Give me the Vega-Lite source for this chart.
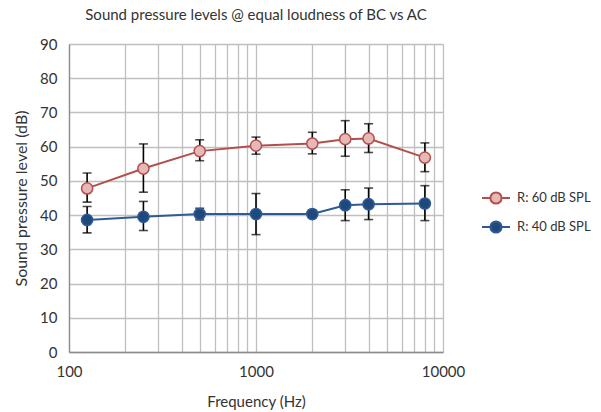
{
  "$schema": "https://vega.github.io/schema/vega-lite/v6.json",
  "width": 374,
  "height": 308,
  "padding": {"left": 13, "top": 8, "right": 5, "bottom": 5},
  "background": "white",
  "config": {
    "font": "Lato",
    "view": {"stroke": null},
    "axis": {"labelFont": "Lato", "titleFont": "Lato", "labelColor": "#333333", "titleColor": "#333333", "titleFontWeight": "normal"},
    "axisY": {"labelFontSize": 15, "labelPadding": 12, "titleFontSize": 16, "titlePadding": 10, "labelOverlap": false, "labelFlush": false, "ticks": false, "grid": true, "gridColor": "#bfbfbf", "gridWidth": 1.3, "domainColor": "#8c8c8c", "domainWidth": 1.3}
  },
  "title": {"text": "Sound pressure levels @ equal loudness of BC vs AC", "font": "Lato", "fontSize": 15, "fontWeight": "normal", "color": "#333333", "offset": 14},
  "data": {
    "values": [
      {"freq": 125, "series": "R: 60 dB SPL", "mean": 47.8, "lo": 43.8, "hi": 52.3},
      {"freq": 250, "series": "R: 60 dB SPL", "mean": 53.6, "lo": 46.7, "hi": 60.8},
      {"freq": 500, "series": "R: 60 dB SPL", "mean": 58.7, "lo": 55.9, "hi": 62.0},
      {"freq": 1000, "series": "R: 60 dB SPL", "mean": 60.3, "lo": 57.8, "hi": 62.8},
      {"freq": 2000, "series": "R: 60 dB SPL", "mean": 60.9, "lo": 57.9, "hi": 64.2},
      {"freq": 3000, "series": "R: 60 dB SPL", "mean": 62.2, "lo": 57.2, "hi": 67.6},
      {"freq": 4000, "series": "R: 60 dB SPL", "mean": 62.4, "lo": 58.3, "hi": 66.7},
      {"freq": 8000, "series": "R: 60 dB SPL", "mean": 56.8, "lo": 52.7, "hi": 61.1},
      {"freq": 125, "series": "R: 40 dB SPL", "mean": 38.6, "lo": 34.8, "hi": 42.5},
      {"freq": 250, "series": "R: 40 dB SPL", "mean": 39.5, "lo": 35.5, "hi": 44.0},
      {"freq": 500, "series": "R: 40 dB SPL", "mean": 40.3, "lo": 38.6, "hi": 42.0},
      {"freq": 1000, "series": "R: 40 dB SPL", "mean": 40.3, "lo": 34.3, "hi": 46.3},
      {"freq": 2000, "series": "R: 40 dB SPL", "mean": 40.3, "lo": 39.2, "hi": 41.4},
      {"freq": 3000, "series": "R: 40 dB SPL", "mean": 42.9, "lo": 38.4, "hi": 47.4},
      {"freq": 4000, "series": "R: 40 dB SPL", "mean": 43.2, "lo": 38.7, "hi": 47.9},
      {"freq": 8000, "series": "R: 40 dB SPL", "mean": 43.4, "lo": 38.4, "hi": 48.6}
    ]
  },
  "encoding": {
    "x": {
      "field": "freq", "type": "quantitative",
      "scale": {"type": "log", "domain": [100, 10000], "nice": false},
      "axis": {
        "title": "Frequency (Hz)", "titleFontSize": 15, "titlePadding": 15,
        "values": [100, 200, 300, 400, 500, 600, 700, 800, 900, 1000, 2000, 3000, 4000, 5000, 6000, 7000, 8000, 9000, 10000],
        "labelExpr": "(datum.value == 100 || datum.value == 1000 || datum.value == 10000) ? datum.label : ''",
        "format": "d", "labelFontSize": 15, "labelPadding": 12,
        "ticks": false, "grid": true, "gridColor": "#bfbfbf", "gridWidth": 1.3,
        "domainColor": "#8c8c8c", "domainWidth": 1.3, "labelFlush": false, "labelOverlap": false
      }
    }
  },
  "layer": [
    {
      "mark": {"type": "rule", "color": "black", "strokeWidth": 1.6},
      "encoding": {
        "y": {"field": "lo", "type": "quantitative",
          "scale": {"domain": [0, 90], "nice": false},
          "axis": {"title": "Sound pressure level (dB)", "values": [0, 10, 20, 30, 40, 50, 60, 70, 80, 90]}},
        "y2": {"field": "hi"}
      }
    },
    {
      "mark": {"type": "tick", "orient": "horizontal", "color": "black", "size": 9, "thickness": 1.6},
      "encoding": {"y": {"field": "lo", "type": "quantitative", "axis": {"title": "Sound pressure level (dB)", "values": [0, 10, 20, 30, 40, 50, 60, 70, 80, 90]}}}
    },
    {
      "mark": {"type": "tick", "orient": "horizontal", "color": "black", "size": 9, "thickness": 1.6},
      "encoding": {"y": {"field": "hi", "type": "quantitative", "axis": {"title": "Sound pressure level (dB)", "values": [0, 10, 20, 30, 40, 50, 60, 70, 80, 90]}}}
    },
    {
      "mark": {"type": "line", "strokeWidth": 2},
      "encoding": {
        "y": {"field": "mean", "type": "quantitative", "axis": {"title": "Sound pressure level (dB)", "values": [0, 10, 20, 30, 40, 50, 60, 70, 80, 90]}},
        "stroke": {"field": "series", "type": "nominal",
          "scale": {"domain": ["R: 60 dB SPL", "R: 40 dB SPL"], "range": ["#b24f4b", "#2f5b95"]},
          "legend": {"title": null, "orient": "none", "legendX": 412, "legendY": 139,
            "symbolType": "M-1,0H-0.4M0.4,0H1M0.4,0A0.4,0.4 0 1,1 -0.4,0A0.4,0.4 0 1,1 0.4,0Z",
            "symbolSize": 784, "symbolStrokeWidth": 2, "labelFont": "Lato", "labelFontSize": 13,
            "labelColor": "#333333", "labelOffset": 6, "rowPadding": 4}}
      }
    },
    {
      "mark": {"type": "point", "shape": "circle", "filled": false, "size": 125, "strokeWidth": 1.5, "opacity": 1},
      "encoding": {
        "y": {"field": "mean", "type": "quantitative", "axis": {"title": "Sound pressure level (dB)", "values": [0, 10, 20, 30, 40, 50, 60, 70, 80, 90]}},
        "stroke": {"field": "series", "type": "nominal"},
        "fill": {"field": "series", "type": "nominal",
          "scale": {"domain": ["R: 60 dB SPL", "R: 40 dB SPL"], "range": ["#e6b8b7", "#1f497d"]},
          "legend": {"title": null, "orient": "none", "legendX": 412, "legendY": 139,
            "symbolType": "M-1,0H-0.4M0.4,0H1M0.4,0A0.4,0.4 0 1,1 -0.4,0A0.4,0.4 0 1,1 0.4,0Z",
            "symbolSize": 784, "symbolStrokeWidth": 2, "labelFont": "Lato", "labelFontSize": 13,
            "labelColor": "#333333", "labelOffset": 6, "rowPadding": 4}}
      }
    }
  ]
}
